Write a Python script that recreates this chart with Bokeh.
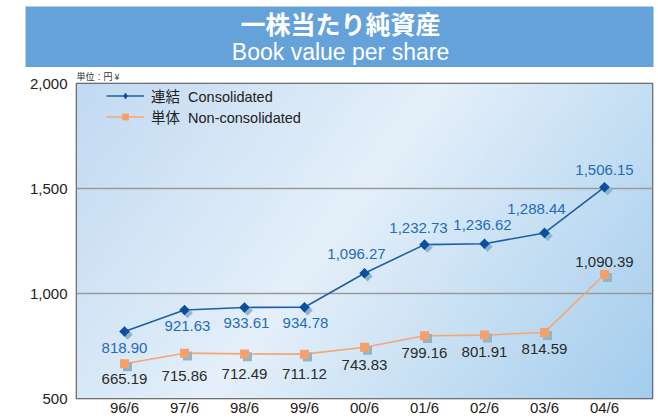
import numpy as np
from bokeh.plotting import figure
from bokeh.models import (Range1d, FixedTicker, NumeralTickFormatter, ColumnDataSource,
                          Legend, LegendItem, Title)
from bokeh.layouts import column
from bokeh.transform import dodge
from bokeh.core.properties import value
from bokeh.embed import file_html
from bokeh.resources import INLINE

# ---------------- data ----------------
periods = ["96/6", "97/6", "98/6", "99/6", "00/6", "01/6", "02/6", "03/6", "04/6"]
consolidated = [818.90, 921.63, 933.61, 934.78, 1096.27, 1232.73, 1236.62, 1288.44, 1506.15]
non_consolidated = [665.19, 715.86, 712.49, 711.12, 743.83, 799.16, 801.91, 814.59, 1090.39]
y_ticks = [500, 1000, 1500, 2000]
title_ja = "一株当たり純資産"
title_en = "Book value per share"
unit_text = "単位：円 ¥"
legend_cons = "連結  Consolidated"
legend_non = "単体  Non-consolidated"

# label placement (screen pixel offsets, + = down)
cons_dy = [16, 16, 16, 16, -19, -17, -19, -24, -17]
cons_dx = [0, 3, 2, 1, -8, -6, -2, -8, 0]
non_dy = [15, 23, 20, 20, 18, 17, 17, 17, -13]
non_dx = [0, 0, 0, 0, 0, 0, 0, 0, 0]

LATIN = "Liberation Sans, Noto Sans CJK JP"
CJK = "Noto Sans CJK JP"

xs = list(range(len(periods)))
W_TOTAL = 656

# ---------------- title band ----------------
tf = figure(width=W_TOTAL, height=67, x_range=Range1d(0, 628), y_range=Range1d(61, 0),
            output_backend="svg", toolbar_location=None,
            min_border_left=25, min_border_right=3, min_border_top=6, min_border_bottom=0)
tf.frame_align = False
tf.background_fill_color = "#64a2d9"
tf.border_fill_color = "white"
tf.outline_line_color = None
tf.axis.visible = False
tf.grid.visible = False
tf.text(x="x", y="y", text="t", source=ColumnDataSource(dict(x=[315], y=[16], t=[title_ja])),
        text_font=value(CJK), text_font_size="25px", text_font_style="bold",
        text_color="white", text_align="center", text_baseline="middle")
tf.text(x="x", y="y", text="t", source=ColumnDataSource(dict(x=[315], y=[45], t=[title_en])),
        text_font=value("Liberation Sans"), text_font_size="23px",
        text_color="white", text_align="center", text_baseline="middle")

# ---------------- main chart ----------------
p = figure(width=W_TOTAL, height=351, x_range=Range1d(-0.8, 8.8), y_range=Range1d(500, 2000),
           output_backend="svg", toolbar_location=None,
           min_border_left=76, min_border_right=4, min_border_top=15, min_border_bottom=16)
p.frame_align = False
p.border_fill_color = "white"
p.outline_line_color = "#4d4d4d"
p.outline_line_width = 1.5

# gradient background
H, W = 80, 160
fw, fh = 576.0, 318.0
gx = np.linspace(0, fw, W)[None, :]
gy_top = (1 - np.linspace(0, 1, H))[:, None] * fh
t = (318 * gx + 230 * gy_top) / (318 * fw + 230 * fh)
stops_t = [0.0, 0.45, 1.0]
stops_c = [(194, 218, 242), (229, 240, 250), (164, 205, 237)]
img = np.empty((H, W), dtype=np.uint32)
view = img.view(dtype=np.uint8).reshape((H, W, 4))
for ch in range(3):
    view[:, :, ch] = np.interp(t, stops_t, [c[ch] for c in stops_c]).astype(np.uint8)
view[:, :, 3] = 255
p.image_rgba(image=[img], x=-0.8, y=500, dw=9.6, dh=1500, level="image")

# axes
p.xaxis.ticker = FixedTicker(ticks=xs)
p.xaxis.major_label_overrides = {i: s for i, s in zip(xs, periods)}
p.yaxis.ticker = FixedTicker(ticks=y_ticks)
p.yaxis.formatter = NumeralTickFormatter(format="0,0")
for ax in (p.xaxis, p.yaxis):
    ax.axis_line_color = None
    ax.major_tick_line_color = None
    ax.minor_tick_line_color = None
    ax.major_tick_out = 0
    ax.major_tick_in = 0
    ax.minor_tick_out = 0
    ax.minor_tick_in = 0
    ax.major_label_text_font = "Liberation Sans"
    ax.major_label_text_font_size = "15px"
    ax.major_label_text_color = "#222222"
p.xaxis.major_label_standoff = 0
p.yaxis.major_label_standoff = 9
p.xgrid.grid_line_color = None
p.ygrid.ticker = FixedTicker(ticks=[1000, 1500])
p.ygrid.grid_line_color = "#9a9a9a"
p.ygrid.grid_line_width = 1.5

unit_title = Title(text=unit_text, align="left", text_font=CJK, text_font_size="9px",
                   text_font_style="normal", text_color="#333333", standoff=1)
p.add_layout(unit_title, "above")

cons_src = ColumnDataSource(dict(
    x=xs, y=consolidated, label=[f"{v:,.2f}" for v in consolidated], dx=cons_dx, dy=cons_dy))
non_src = ColumnDataSource(dict(
    x=xs, y=non_consolidated, label=[f"{v:,.2f}" for v in non_consolidated], dx=non_dx, dy=non_dy))

shadow = "#8db6ca"
# non-consolidated
nl = p.line("x", "y", source=non_src, line_color="#f5a672", line_width=1.6)
p.scatter(dodge("x", 0.05), dodge("y", -14), source=non_src, marker="square", size=9,
          fill_color=shadow, line_color=None)
nm = p.scatter("x", "y", source=non_src, marker="square", size=9,
               fill_color="#f7a06a", line_color=None)
# consolidated
cl = p.line("x", "y", source=cons_src, line_color="#1c5fa8", line_width=1.6)
p.scatter(dodge("x", 0.05), dodge("y", -14), source=cons_src, marker="square", angle=np.pi / 4,
          size=7.5, fill_color=shadow, line_color=None)
cm = p.scatter("x", "y", source=cons_src, marker="diamond", size=10,
               fill_color="#0b4f9e", line_color=None)
p.scatter("x", "y", source=cons_src, marker="square", angle=np.pi / 4, size=7.5,
          fill_color="#0b4f9e", line_color=None)

p.text("x", "y", text="label", source=cons_src, x_offset="dx", y_offset="dy",
       text_font=value("Liberation Sans"), text_font_size="15px", text_color="#1f6cb8",
       text_align="center", text_baseline="middle")
p.text("x", "y", text="label", source=non_src, x_offset="dx", y_offset="dy",
       text_font=value("Liberation Sans"), text_font_size="15px", text_color="#2a2a2a",
       text_align="center", text_baseline="middle")

legend = Legend(items=[LegendItem(label=legend_cons, renderers=[cl, cm]),
                       LegendItem(label=legend_non, renderers=[nl, nm])],
                location=(30, 271), orientation="vertical",
                background_fill_alpha=0, border_line_color=None,
                padding=0, spacing=0, margin=0,
                glyph_width=38, glyph_height=17, label_height=17, label_standoff=7,
                label_text_font=LATIN, label_text_font_size="14.5px",
                label_text_line_height=1.0,
                label_text_color="#222222")
p.add_layout(legend, "center")

layout = column(tf, p, spacing=0)
open("out.html", "w").write(file_html(layout, INLINE))
